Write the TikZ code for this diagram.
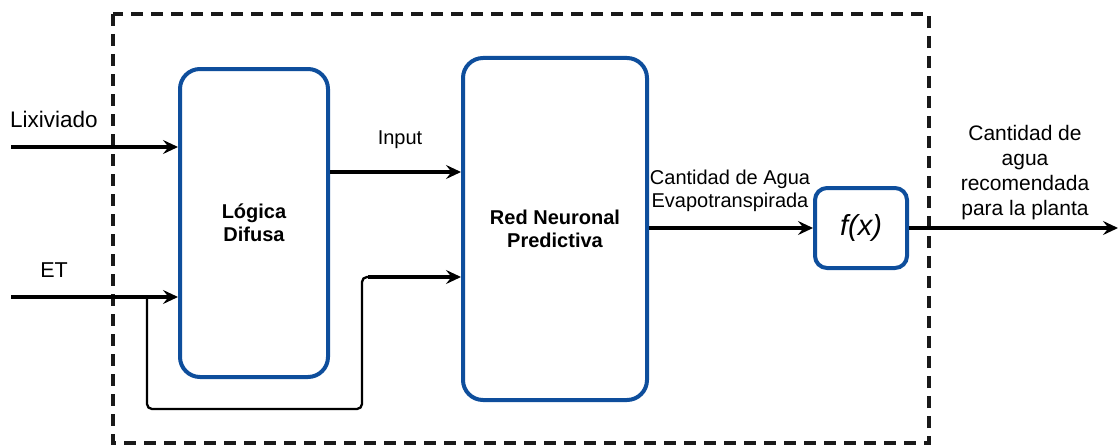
\documentclass[tikz,border=0pt]{standalone}
\usepackage{fontspec}
\setmainfont{Liberation Sans}
\usetikzlibrary{arrows.meta}
\definecolor{boxblue}{RGB}{14,78,156}
\tikzset{
  block/.style={draw=boxblue, line width=4pt, rounded corners=20pt, fill=white,
    align=center, inner sep=0pt, font=\bfseries\fontsize{20}{23}\selectfont},
  flow/.style={line width=3.2pt, -{Stealth[length=15pt,width=14pt,inset=5.5pt]}},
  thinflow/.style={line width=2.3pt, rounded corners=5pt},
  lbl/.style={align=center, inner sep=0pt, font=\fontsize{20}{23.5}\selectfont},
  frame/.style={draw=black!90, line width=3.2pt, dash pattern=on 12pt off 8pt}
}
\begin{document}
\begin{tikzpicture}[x=1pt, y=-1pt]
\useasboundingbox (0,0) rectangle (1118,444);

% system boundary
\draw[frame] (113,14) rectangle (929,443);

% processing blocks
\node[block, minimum width=148pt, minimum height=308pt] (logic) at (254,223) {Lógica\\Difusa};
\node[block, minimum width=184pt, minimum height=342pt] (net) at (555,229) {Red Neuronal\\Predictiva};
\node[block, rounded corners=12pt, minimum width=92pt, minimum height=80pt,
      font=\itshape\fontsize{29}{31}\selectfont] (fx) at (861,228) {f(x)};

% inputs and routing points
\coordinate (lixin) at (11,147);
\coordinate (etin) at (11,297);
\coordinate (split) at (147,297);
\coordinate (loopa) at (147,409);
\coordinate (loopb) at (362,409);
\coordinate (loopc) at (362,277);
\coordinate (loopd) at (368,277);
\coordinate (iny) at (0,172);
\coordinate (outend) at (1118,228);

\draw[flow] (lixin) -- (lixin -| logic.west);
\draw[flow] (etin) -- (etin -| logic.west);
\draw[flow] (logic.east |- iny) -- (net.west |- iny);
\draw[thinflow] (split) -- (loopa) -- (loopb) -- (loopc) -- (loopd);
\draw[flow] (loopd) -- (loopd -| net.west);
\draw[flow] (net.east |- fx.west) -- (fx.west);
\draw[flow] (fx.east) -- (outend);

% labels
\node[lbl, font=\fontsize{22.5}{26}\selectfont] (lixlbl) at (54,119) {Lixiviado};
\node[lbl, font=\fontsize{21.5}{25}\selectfont] (etlbl) at (54,270) {ET};
\node[lbl] (inlbl) at (400,140) {Input};
\node[lbl] (evlbl) at (730,191) {Cantidad de Agua\\Evapotranspirada};
\node[lbl, font=\fontsize{21}{25}\selectfont] (outlbl) at (1025,173) {Cantidad de\\agua\\recomendada\\para la planta};
\end{tikzpicture}
\end{document}
